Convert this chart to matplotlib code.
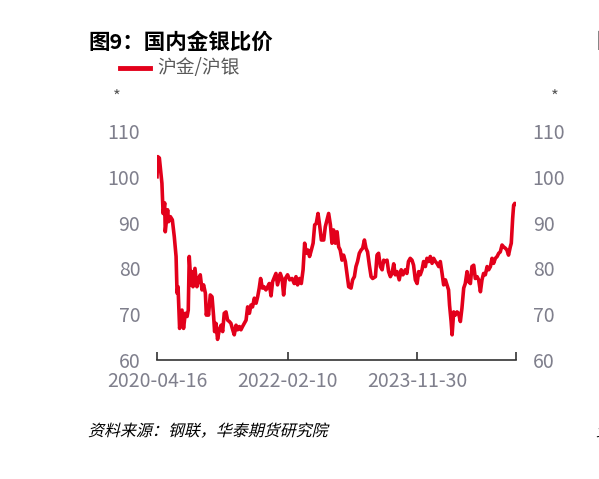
import matplotlib
matplotlib.use("Agg")
import matplotlib.pyplot as plt
import pandas as pd
from matplotlib.lines import Line2D
from matplotlib.textpath import TextPath
from matplotlib.patches import PathPatch
from matplotlib.font_manager import FontProperties
from matplotlib.transforms import Affine2D

plt.rcParams["font.family"] = ["Noto Sans CJK SC", "DejaVu Sans"]

RED = "#E3001B"
GREY = "#7F7F8C"

# 沪金/沪银 比价
dates = [
    "2020-04-16", "2020-04-20", "2020-04-28", "2020-05-11", "2020-05-17", "2020-05-25",
    "2020-05-28", "2020-06-09", "2020-06-14", "2020-06-23", "2020-07-03", "2020-07-13",
    "2020-07-22", "2020-07-27", "2020-08-01", "2020-08-09", "2020-08-21", "2020-08-29",
    "2020-09-07", "2020-09-16", "2020-09-22", "2020-09-27", "2020-10-06", "2020-10-11",
    "2020-10-16", "2020-10-26", "2020-11-05", "2020-11-14", "2020-11-22", "2020-12-01",
    "2020-12-09", "2020-12-18", "2020-12-23", "2020-12-29", "2021-01-03", "2021-01-12",
    "2021-01-21", "2021-01-29", "2021-02-03", "2021-02-10", "2021-02-18", "2021-02-27",
    "2021-03-08", "2021-03-16", "2021-03-24", "2021-04-02", "2021-04-10", "2021-04-19",
    "2021-04-27", "2021-05-06", "2021-05-14", "2021-05-23", "2021-05-31", "2021-06-09",
    "2021-06-17", "2021-06-25", "2021-07-04", "2021-07-13", "2021-07-21", "2021-07-30",
    "2021-08-07", "2021-08-15", "2021-08-24", "2021-09-02", "2021-09-10", "2021-09-18",
    "2021-09-25", "2021-10-04", "2021-10-12", "2021-10-22", "2021-10-31", "2021-11-08",
    "2021-11-17", "2021-11-25", "2021-12-12", "2021-12-20", "2022-01-03", "2022-01-12",
    "2022-01-20", "2022-01-29", "2022-02-09", "2022-02-20", "2022-03-04", "2022-03-15",
    "2022-03-24", "2022-04-01", "2022-04-11", "2022-04-20", "2022-04-29", "2022-05-07",
    "2022-05-15", "2022-05-24", "2022-06-01", "2022-06-10", "2022-06-19", "2022-06-27",
    "2022-07-05", "2022-07-14", "2022-07-22", "2022-07-31", "2022-08-12", "2022-08-20",
    "2022-08-29", "2022-09-06", "2022-09-15", "2022-09-23", "2022-10-01", "2022-10-10",
    "2022-10-19", "2022-10-27", "2022-11-04", "2022-11-13", "2022-11-21", "2022-11-30",
    "2022-12-08", "2022-12-17", "2022-12-29", "2023-01-06", "2023-01-15", "2023-01-23",
    "2023-01-31", "2023-02-09", "2023-02-18", "2023-02-26", "2023-03-07", "2023-03-15",
    "2023-03-23", "2023-04-01", "2023-04-10", "2023-04-18", "2023-05-02", "2023-05-10",
    "2023-05-18", "2023-05-27", "2023-06-05", "2023-06-13", "2023-06-21", "2023-06-30",
    "2023-07-08", "2023-07-17", "2023-07-25", "2023-08-03", "2023-08-11", "2023-08-20",
    "2023-08-31", "2023-09-10", "2023-09-19", "2023-10-01", "2023-10-09", "2023-10-17",
    "2023-10-26", "2023-11-04", "2023-11-12", "2023-11-21", "2023-11-30", "2023-12-08",
    "2023-12-16", "2023-12-25", "2024-01-02", "2024-01-11", "2024-01-19", "2024-01-28",
    "2024-02-05", "2024-02-14", "2024-02-22", "2024-03-02", "2024-03-10", "2024-03-19",
    "2024-03-27", "2024-04-05", "2024-04-13", "2024-04-22", "2024-04-30", "2024-05-08",
    "2024-05-13", "2024-05-21", "2024-05-26", "2024-06-03", "2024-06-11", "2024-06-20",
    "2024-06-28", "2024-07-07", "2024-07-15", "2024-07-24", "2024-08-01", "2024-08-10",
    "2024-08-18", "2024-08-27", "2024-09-04", "2024-09-13", "2024-09-21", "2024-09-30",
    "2024-10-08", "2024-10-17", "2024-10-25", "2024-11-02", "2024-11-11", "2024-11-20",
    "2024-11-28", "2024-12-07", "2024-12-15", "2024-12-23", "2025-01-01", "2025-01-10",
    "2025-01-18", "2025-01-26", "2025-02-04", "2025-02-12", "2025-02-21", "2025-03-01",
    "2025-03-09", "2025-03-18", "2025-03-23", "2025-03-30", "2025-04-04", "2025-04-10",
    "2025-04-16",
]
ratio = [
    100.0, 104.4, 104.1, 98.6, 92.0, 94.3,
    88.0, 92.8, 90.2, 91.3, 90.6, 86.9,
    82.6, 74.6, 76.0, 66.9, 70.9, 66.9,
    70.2, 69.5, 70.9, 82.6, 76.4, 79.3,
    76.0, 80.0, 76.0, 77.8, 78.6, 75.3,
    76.4, 74.6, 69.8, 71.3, 69.8, 74.2,
    73.8, 69.5, 66.2, 68.0, 64.5, 66.6,
    67.6, 66.2, 70.2, 70.5, 68.7, 68.4,
    68.0, 66.6, 65.5, 67.6, 66.6, 67.3,
    66.6, 67.3, 68.0, 68.7, 71.6, 70.2,
    72.0, 71.6, 73.5, 72.4, 73.8, 75.7,
    77.8, 75.7, 76.0, 75.3, 76.0, 76.7,
    74.0, 77.1, 78.9, 76.4, 78.9, 77.8,
    74.2, 77.8, 78.6, 77.5, 77.8, 76.7,
    78.2, 76.4, 77.8, 76.7, 79.7, 85.5,
    83.3, 84.0, 82.6, 84.0, 85.5, 89.5,
    89.8, 92.0, 89.5, 86.2, 86.2, 89.1,
    90.6, 92.0, 89.5, 85.5, 88.4, 85.5,
    88.0, 84.7, 84.0, 81.8, 82.9, 81.5,
    78.9, 76.0, 75.7, 77.5, 78.2, 80.4,
    81.5, 83.3, 84.0, 84.4, 86.2, 84.4,
    83.6, 80.7, 78.2, 77.8, 78.2, 82.9,
    83.3, 80.4, 79.7, 81.8, 81.5, 81.8,
    79.3, 78.2, 78.9, 81.0, 78.6, 79.3,
    77.5, 79.7, 78.6, 79.7, 78.9, 81.5,
    82.2, 81.8, 80.7, 77.5, 76.7, 79.3,
    78.6, 79.7, 81.5, 80.4, 82.2, 81.5,
    82.6, 81.1, 82.2, 81.5, 81.1, 80.4,
    81.5, 78.9, 76.4, 77.5, 76.4, 75.3,
    72.0, 68.4, 65.5, 70.5, 69.8, 70.5,
    70.2, 68.4, 71.3, 75.7, 76.7, 79.3,
    77.1, 76.7, 80.4, 80.7, 77.8, 78.2,
    77.5, 74.9, 77.5, 78.9, 78.6, 80.4,
    79.7, 80.4, 82.2, 81.1, 82.2, 82.6,
    83.3, 83.6, 85.1, 84.7, 84.4, 84.0,
    82.9, 84.7, 85.5, 90.9, 93.8, 94.2,
    94.0,
]
tick_dates = ["2020-04-16", "2022-02-10", "2023-11-30", "2025-04-16"]
tick_labels = ["2020-04-16", "2022-02-10", "2023-11-30", ""]
y_ticks = [60, 70, 80, 90, 100, 110]

df = pd.DataFrame({"date": pd.to_datetime(dates), "ratio": ratio})

W, H = 599, 479
fig = plt.figure(figsize=(W / 100, H / 100), dpi=100)
ax = fig.add_axes([157 / W, 1 - 360 / H, 359 / W, 229 / H])

ax.plot(df["date"], df["ratio"], color=RED, lw=2.6, solid_joinstyle="round")

ax.set_ylim(60, 110)
ax.set_yticks(y_ticks)
ax.set_xlim(pd.Timestamp(tick_dates[0]), pd.Timestamp(tick_dates[-1]))
ax.set_xticks(pd.to_datetime(tick_dates))
ax.set_xticklabels(tick_labels)

for s in ["top", "left", "right"]:
    ax.spines[s].set_visible(False)
ax.spines["bottom"].set_color("#333333")
ax.spines["bottom"].set_linewidth(1.2)

ax.tick_params(axis="x", direction="in", length=6, width=1.2, color="#333333",
               labelsize=14, labelcolor=GREY, pad=8)
ax.tick_params(axis="y", length=0, labelsize=14, labelcolor=GREY, pad=12,
               labelleft=True, labelright=True)
ax.patch.set_visible(False)

# title, legend, units
fig.text(88 / W, 1 - 42 / H, "图9：国内金银比价", fontsize=15.5, weight="bold",
         va="center", ha="left", color="black")
fig.add_artist(Line2D([120 / W, 150 / W], [1 - 68 / H] * 2, color=RED, lw=3.5))
fig.text(157 / W, 1 - 68 / H, "沪金/沪银", fontsize=13.5, color="#595959",
         va="center", ha="left")
fig.text(117 / W, 1 - 97 / H, "*", fontsize=12, color="#595959", ha="center", va="center")
fig.text(555 / W, 1 - 97 / H, "*", fontsize=12, color="#595959", ha="center", va="center")

# neighbouring panel, cut off at the edge
fig.text(596 / W, 1 - 42 / H, "图10", fontsize=15.5, weight="bold",
         va="center", ha="left", color="black")

# source note, slanted
fp = FontProperties(family="Noto Sans CJK SC", size=11.5)
tp = TextPath((0, 0), "资料来源：钢联，华泰期货研究院", prop=fp)
tr = Affine2D().skew_deg(14, 0).scale(100 / 72).translate(88, H - 436)
fig.add_artist(PathPatch(tp, transform=tr, facecolor="black", lw=0))
tp2 = TextPath((0, 0), "资料", prop=fp)
tr2 = Affine2D().skew_deg(14, 0).scale(100 / 72).translate(596, H - 436)
fig.add_artist(PathPatch(tp2, transform=tr2, facecolor="black", lw=0))

fig.savefig("out.png", dpi=100)
